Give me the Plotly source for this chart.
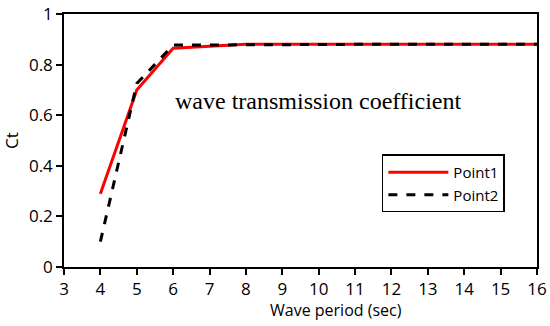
import plotly.graph_objects as go

periods = [4, 5, 6, 7, 8, 9, 10, 11, 12, 13, 14, 15, 16]
point1 = [0.29, 0.70, 0.865, 0.872, 0.88, 0.88, 0.88, 0.88, 0.88, 0.88, 0.88, 0.88, 0.88]
point2 = [0.10, 0.725, 0.877, 0.878, 0.88, 0.88, 0.88, 0.88, 0.88, 0.88, 0.88, 0.88, 0.88]
x_ticks = list(range(3, 17))
y_ticks = [0, 0.2, 0.4, 0.6, 0.8, 1]
y_labels = ["0", "0.2", "0.4", "0.6", "0.8", "1"]

fig = go.Figure()
fig.add_trace(go.Scatter(x=periods, y=point1, mode="lines", name="Point1",
                         line=dict(color="#ff0000", width=3)))
fig.add_trace(go.Scatter(x=periods, y=point2, mode="lines", name="Point2",
                         line=dict(color="#000000", width=3, dash="dash")))

font = "Open Sans, Liberation Sans, sans-serif"
fig.update_layout(
    width=550, height=326,
    margin=dict(l=64, r=13, t=14, b=59, autoexpand=False),
    paper_bgcolor="white", plot_bgcolor="white",
    font=dict(family=font, size=15, color="#000"),
    showlegend=True,
    legend=dict(x=0.672, y=0.445, xanchor="left", yanchor="top",
                bordercolor="#000", borderwidth=1.5, bgcolor="white",
                font=dict(family=font, size=15), tracegroupgap=6, itemwidth=60),
    xaxis=dict(range=[3, 16], tickvals=x_ticks, ticks="outside", ticklen=6,
               tickcolor="#000", tickwidth=1.5, showline=True, linecolor="#000",
               linewidth=1.5, mirror=True, showgrid=False, zeroline=False,
               automargin=False, tickfont=dict(family=font, size=17)),
    yaxis=dict(range=[0, 1], tickvals=y_ticks, ticktext=y_labels, ticks="outside",
               ticklen=6, tickcolor="#000", tickwidth=1.5, showline=True,
               linecolor="#000", linewidth=1.5, mirror=True, showgrid=False,
               zeroline=False, automargin=False, tickfont=dict(family=font, size=17),
               title=dict(text="Ct", standoff=6, font=dict(family=font, size=17))),
    annotations=[
        dict(text="wave transmission coefficient", x=0.537, y=0.655,
             xref="paper", yref="paper", showarrow=False,
             font=dict(family="Liberation Serif, Times New Roman, serif", size=24)),
        dict(text="Wave period (sec)", x=0.575, y=-0.17, xref="paper", yref="paper",
             showarrow=False, yanchor="middle",
             font=dict(family=font, size=16)),
    ],
)

fig.write_html("out.html", config={"displayModeBar": False},
               post_script="document.body.style.margin='0';document.body.style.overflow='hidden';")
